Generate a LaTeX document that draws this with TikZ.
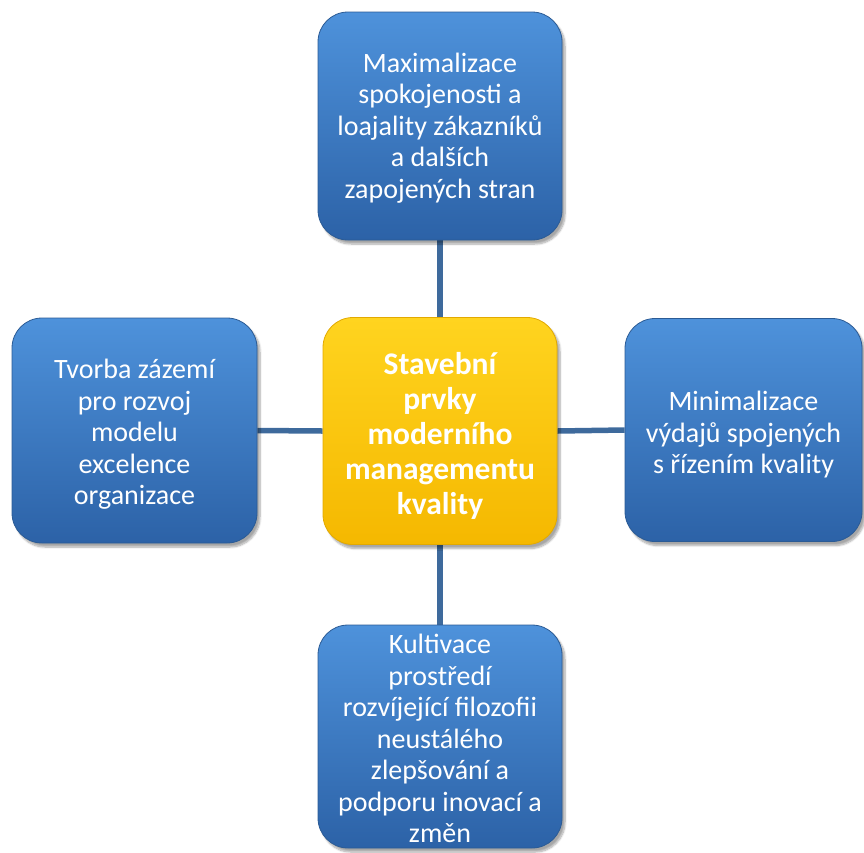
\documentclass[tikz,border=0pt]{standalone}
\usepackage{fontspec}
\setmainfont{Carlito}
\usetikzlibrary{shadows.blur,backgrounds}

\definecolor{boxtop}{HTML}{4E92DB}
\definecolor{boxbot}{HTML}{2C62A7}
\definecolor{boxrim}{HTML}{2B5B95}
\definecolor{coretop}{HTML}{FFD41F}
\definecolor{corebot}{HTML}{F5B800}
\definecolor{corerim}{HTML}{E2A900}
\definecolor{linkblue}{HTML}{3E6A9C}

\tikzset{
  card/.style={rounded corners=30pt, inner sep=0pt, line width=0.8pt,
    blur shadow={shadow xshift=3pt, shadow yshift=-4pt, shadow blur steps=8, shadow opacity=35}},
  bluecard/.style={card, draw=boxrim, top color=boxtop, bottom color=boxbot},
  corecard/.style={card, draw=corerim, top color=coretop, bottom color=corebot},
  bluetext/.style={align=center, text=white, inner sep=0pt,
    font=\fontsize{28}{31.5}\selectfont},
  coretext/.style={align=center, text=white, inner sep=0pt,
    font=\bfseries\fontsize{31.5}{35}\selectfont},
  link/.style={draw=linkblue, line width=5.5pt}
}

\begin{document}
\begin{tikzpicture}[x=1pt,y=-1pt]
  \useasboundingbox (0,0) rectangle (864,852);

  % boxes, each with its text set a little below the middle
  \node[bluecard, minimum width=244pt, minimum height=228pt,
    label={[bluetext, name=goaltext, yshift=-2pt]center:{Maximalizace\\spokojenosti a\\loajality zákazníků\\a dalších\\zapojených stran}}]
    (goal) at (440,126) {};
  \node[corecard, minimum width=234pt, minimum height=227pt,
    label={[coretext, name=coretitle, yshift=-5pt]center:{Stavební\\prvky\\moderního\\managementu\\kvality}}]
    (core) at (440,431) {};
  \node[bluecard, minimum width=245pt, minimum height=225pt,
    label={[bluetext, name=basetext, yshift=-4pt]center:{Tvorba zázemí\\pro rozvoj\\modelu\\excelence\\organizace}}]
    (base) at (134.5,430.5) {};
  \node[bluecard, minimum width=237pt, minimum height=223pt,
    label={[bluetext, name=costtext, yshift=-5pt]center:{Minimalizace\\výdajů spojených\\s řízením kvality}}]
    (cost) at (743.5,430) {};
  \node[bluecard, minimum width=244pt, minimum height=223pt,
    label={[bluetext, name=culturetext, yshift=-2pt]center:{Kultivace\\prostředí\\rozvíjející filozofii\\neustálého\\zlepšování a\\podporu inovací a\\změn}}]
    (culture) at (440,736.5) {};

  % connectors behind the boxes
  \begin{scope}[on background layer]
    \draw[link] (goal.south) -- (core.north);
    \draw[link] (core.south) -- (culture.north);
    \draw[link] (base.east) -- (core.west);
    \draw[link] (core.east) -- (cost.west);
  \end{scope}
\end{tikzpicture}
\end{document}
